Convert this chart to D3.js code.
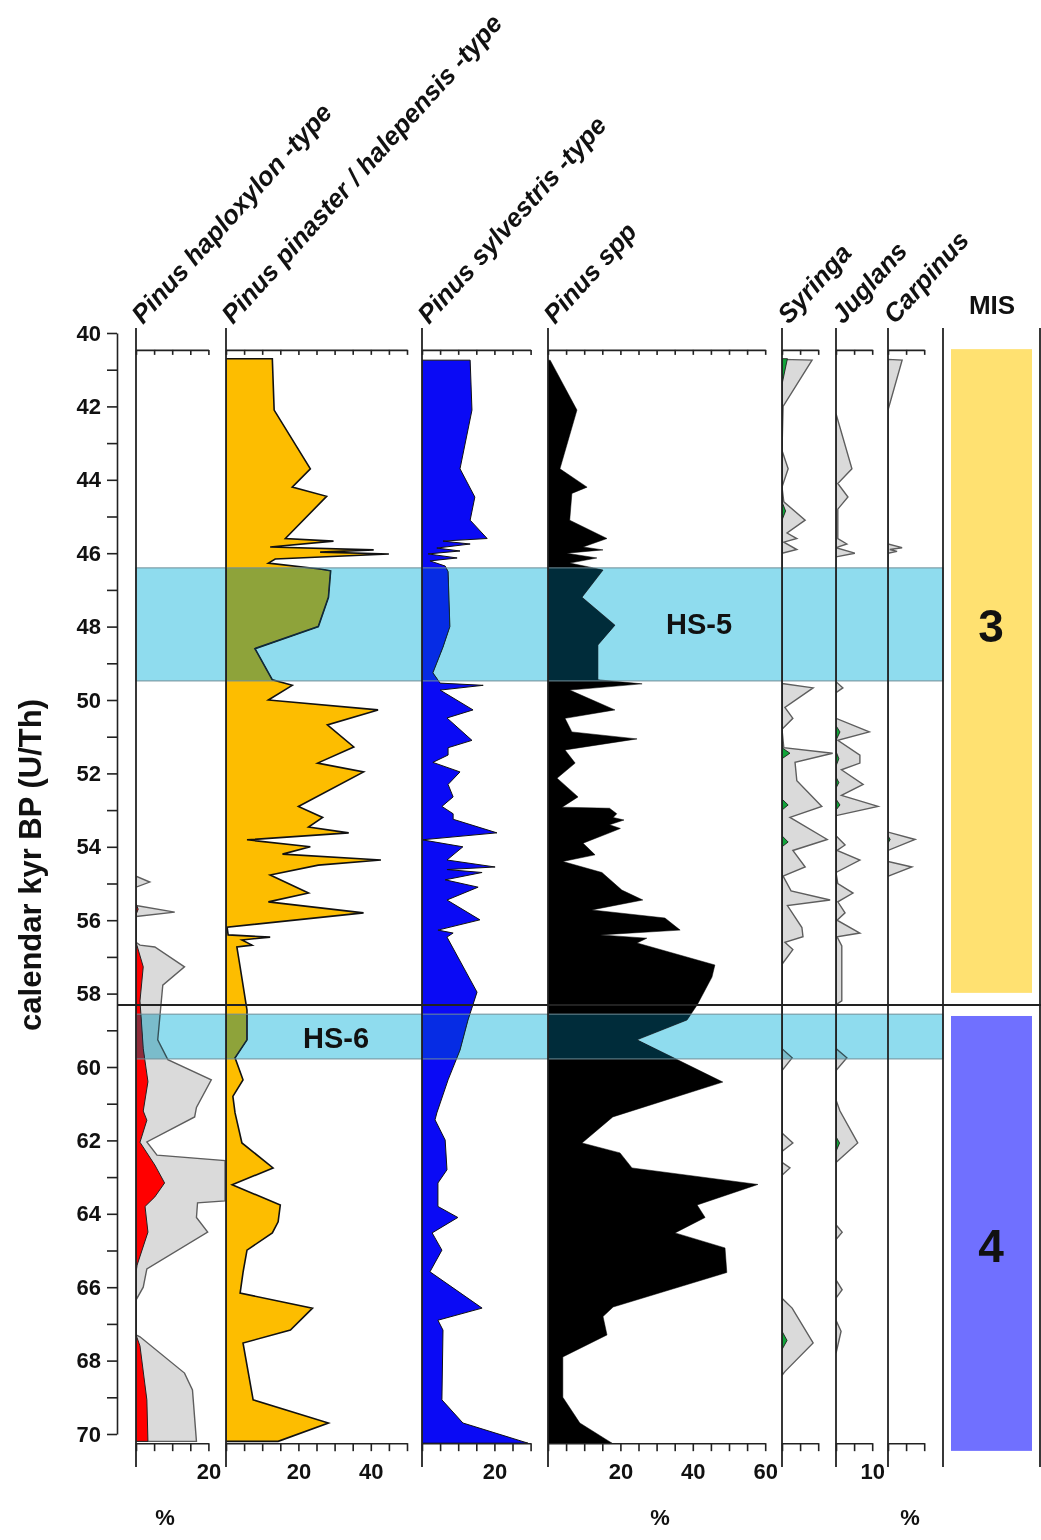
<!DOCTYPE html>
<html lang="en">
<head>
<meta charset="UTF-8">
<script src="https://cdn.jsdelivr.net/npm/d3@7"></script>
<title>Pinus pollen diagram</title>
<style>
    body { margin: 0; background: white; }
    svg { font-family: "Liberation Sans", Arial, sans-serif; }
    .axis text { font-weight: bold; font-size: 22px; fill: #111; }
    .axis path, .axis line { stroke: #222; stroke-width: 1.6px; }
</style>
</head>
<body>
<div id="chart"></div>
<script>
// age (kyr BP) / percentage pairs
const haploxylon = [[55.55,0],[55.7,0.6],[55.85,0],[56.6,0],[56.7,0.3],[57.27,2],[58.2,1.1],[59.5,2],[60.4,3.3],[61.2,2],[61.45,3],[62.05,1.1],[62.67,5.2],[63.16,7.9],[63.54,5.2],[63.8,2.5],[64.5,3.3],[65.4,0.3],[65.6,0],[67.3,0],[67.6,1.1],[69.07,3],[70.2,3.3]];
const haploxylonExag = [[54.8,0],[54.96,3.8],[55.1,0],[55.6,0],[55.78,10.7],[55.9,0],[56.6,0],[56.68,1.1],[56.73,5.2],[57.27,13.4],[57.77,7.4],[59.26,6],[59.8,8.8],[60.35,20.8],[61.1,16.7],[61.36,16.2],[62.04,3],[62.4,5.8],[62.55,24.6],[63.65,24.6],[63.7,17],[64.1,16.7],[64.5,19.8],[65.5,3],[66,2],[66.35,0],[67.3,0],[67.35,1.1],[68.34,13.4],[68.8,15.6],[70.2,16.7]];
const pinaster = [[40.7,12.8],[42.1,13.3],[43.7,23.3],[44.2,18.3],[44.45,27.8],[45.6,16.4],[45.67,29.7],[45.83,12.2],[45.91,40.8],[45.97,26],[46.02,45],[46.16,13.6],[46.27,11.7],[46.43,26],[46.48,28.9],[47.2,28.3],[48.0,25.5],[48.6,8],[49.45,12.8],[49.6,18.3],[50.0,11.7],[50.27,42],[50.68,28],[51.28,35.3],[51.72,25.3],[51.96,38],[52.9,20],[53.2,26.7],[53.46,22.8],[53.62,33.9],[53.81,5.8],[54.0,23.3],[54.2,15.6],[54.36,42.8],[54.5,25.5],[54.77,12.2],[55.26,22.8],[55.5,11.7],[55.8,38],[56.19,0.3],[56.4,0.6],[56.46,12.2],[56.54,4.4],[56.68,7.2],[56.73,3],[57.27,3.9],[58.45,5.8],[59.26,5.8],[59.75,2.5],[60.35,4.7],[60.8,1.9],[61.25,2.5],[62.07,4.4],[62.75,13],[63.21,1.7],[63.76,15],[64.22,14.4],[64.52,12.8],[64.99,5.8],[65.6,4.7],[66.16,3.9],[66.57,23.9],[67.17,17.8],[67.52,4.7],[69.07,7.5],[69.7,28.3],[70.2,14.4]];
const sylvestris = [[40.74,13.3],[42.1,13.8],[43.7,10.5],[44.47,14.6],[45.1,13.3],[45.6,18],[45.67,5.8],[45.75,13.3],[45.86,4.1],[45.94,10.5],[46.02,1.7],[46.13,9.7],[46.21,2.2],[46.35,6.4],[46.5,7.2],[48.0,7.7],[48.56,5.8],[49.26,3],[49.54,5],[49.6,16.9],[49.73,5],[50.27,14.1],[50.49,6.9],[51.1,13.8],[51.3,7.2],[51.5,7.2],[51.7,3],[51.96,10.5],[52.3,7.2],[52.64,8.6],[52.9,5.5],[53.1,8.6],[53.25,8.6],[53.62,20.7],[53.81,0],[54.0,11.3],[54.36,6.9],[54.55,20.2],[54.62,6.9],[54.7,16.6],[54.9,6.4],[55.1,15.5],[55.45,6.9],[55.99,16],[56.27,4.4],[56.35,8.6],[56.46,6.9],[57.96,15.2],[58.72,12.7],[59.54,10.5],[60.35,7.2],[61.25,4.1],[61.44,3.6],[61.99,6.4],[62.8,6.9],[63.16,4.4],[63.8,4.4],[64.1,9.9],[64.52,2.8],[64.99,5.5],[65.58,2.2],[66.57,16.6],[66.9,4.4],[67.17,5.8],[69.07,5.5],[69.7,11.3],[70.25,29.3]];
const pinusSpp = [[40.74,0.6],[42.1,8],[43.7,3.3],[44.2,10.8],[44.37,6.6],[45.1,6],[45.6,16.3],[45.83,9.7],[45.91,15.2],[46.0,5.2],[46.13,13.5],[46.27,6],[46.38,11.6],[46.46,15.2],[47.2,9.4],[47.96,18.5],[48.5,13.8],[49.45,13.8],[49.56,26],[49.73,6],[50.27,18.5],[50.5,4.7],[50.87,6.6],[51.06,24.6],[51.36,4.7],[51.72,7.5],[52.13,2.5],[52.64,8.3],[52.92,3.9],[52.95,17],[53.1,19],[53.2,18],[53.27,21],[53.4,17],[53.5,20],[53.62,17],[53.9,9.7],[54.22,13],[54.4,4.1],[54.7,14.9],[55.18,20.4],[55.45,26.2],[55.72,12.1],[55.94,32.3],[56.27,36.5],[56.4,14.4],[56.49,27.3],[56.62,24.6],[57.22,46.1],[57.55,45.3],[58.31,41.2],[58.72,38.4],[59.26,24.6],[60.41,48.3],[61.36,17.9],[62.07,9.4],[62.34,19.9],[62.75,23.2],[63.2,58],[63.76,41.2],[64.1,43.4],[64.52,35.1],[64.93,48.9],[65.6,49.4],[66.54,18],[66.8,15.2],[67.3,16.3],[67.9,4.1],[69.0,4.1],[69.7,8.8],[70.25,17.7]];
const syringaExag = [[40.72,0],[40.74,8.3],[42.0,0.3],[43.2,0],[43.7,1.7],[44.2,0],[44.6,0.5],[45.1,6.4],[45.45,1.4],[45.6,4.1],[45.7,0.5],[45.9,4.1],[46.0,0],[49.55,0],[49.67,8.6],[50.2,0.8],[50.5,3],[50.8,0],[51.3,0.5],[51.45,14],[51.7,3.6],[52.2,4.1],[52.9,11],[53.2,2.2],[53.8,12.5],[54.1,3],[54.55,6.4],[54.8,0.3],[55.2,2.5],[55.45,13.3],[55.6,1.5],[56.2,5.5],[56.45,5.8],[56.6,0.8],[56.8,3],[57.2,0],[59.5,0],[59.75,2.8],[60.1,0],[61.8,0],[62.07,3],[62.3,0],[62.6,0],[62.75,2.2],[62.95,0],[66.3,0],[66.57,2.8],[67.52,8.6],[68.3,0.8],[68.4,0]];
const syringa = [[40.7,1.5],[41.4,0],[44.6,0],[44.85,1.0],[45.1,0],[51.3,0],[51.45,2.2],[51.6,0],[52.7,0],[52.86,1.7],[53.0,0],[53.7,0],[53.87,1.7],[54.0,0],[67.2,0],[67.45,1.4],[67.7,0]];
const juglansExag = [[42.2,0],[43.7,4.4],[44.1,0.5],[44.47,3.3],[44.8,0.5],[45.6,0.5],[45.75,3],[45.85,0],[46.0,5.2],[46.1,0],[49.5,0],[49.67,1.9],[49.8,0],[50.5,0],[50.87,9.2],[51.1,0.5],[51.5,6.6],[51.72,6.6],[51.9,1.5],[52.3,7.5],[52.6,1.5],[52.9,11.6],[53.15,0],[53.7,0],[53.95,2.5],[54.1,0.3],[54.36,6.6],[54.7,0],[55.0,0.5],[55.26,4.7],[55.5,0.5],[55.8,2.5],[56.0,0.3],[56.35,6.6],[56.45,0.3],[56.7,1.6],[58.2,1.6],[58.3,0],[59.5,0],[59.75,3],[60.1,0],[60.9,0],[61.2,1.1],[62.07,6],[62.6,0],[64.3,0],[64.5,1.7],[64.7,0],[65.8,0],[66.07,1.7],[66.3,0],[66.9,0],[67.2,1.4],[67.8,0]];
const juglans = [[50.7,0],[50.87,1.1],[51.1,0],[51.4,0],[51.6,0.8],[51.8,0],[52.1,0],[52.25,0.8],[52.4,0],[52.7,0],[52.86,1.1],[53.0,0],[61.9,0],[62.07,1],[62.3,0]];
const carpinusExag = [[40.72,0],[40.74,3.9],[42.1,0],[45.75,0],[45.85,3.9],[45.9,0.5],[45.95,2.5],[46.0,0],[53.6,0],[53.8,7.5],[54.1,0],[54.4,0],[54.55,6.6],[54.8,0]];
const carpinus = [[53.7,0],[53.8,0.6],[53.9,0]];

// Heinrich stadials and marine isotope stages (kyr BP)
const hsNames = ["HS-5", "HS-6"];
const hsTop = [46.4, 58.56];
const hsBottom = [49.48, 59.78];
const misNames = ["3", "4"];
const misTop = [40.44, 58.61];
const misBottom = [57.98, 70.46];
const misLabelAge = [47.96, 64.85];
const misColors = ["#ffe171", "#7070ff"];
const boundaryAge = 58.31;

const ageTicks = d3.range(40, 71, 1);

const W = 1041, H = 1540;
const svg = d3.select("#chart").append("svg")
    .attr("width", W).attr("height", H)
    .style("display", "block");
svg.append("rect").attr("width", W).attr("height", H).attr("fill", "white");

const y = d3.scaleLinear().domain([40, 70]).range([333, 1434]);
const topAge = 40.46, botAge = 70.25;
const pxPct = 3.62;

const panels = [
    {name: ["Pinus haploxylon", " -type"], x0: 136, max: 20, step: 5, labels: [20], series: [[haploxylonExag, "grey"], [haploxylon, "red"]]},
    {name: ["Pinus pinaster / halepensis", " -type"], x0: 226, max: 50, step: 5, labels: [20, 40], series: [[pinaster, "orange"]]},
    {name: ["Pinus sylvestris", " -type"], x0: 422, max: 30, step: 5, labels: [20], series: [[sylvestris, "blue"]]},
    {name: ["Pinus spp", ""], x0: 548, max: 60, step: 5, labels: [20, 40, 60], series: [[pinusSpp, "black"]]},
    {name: ["Syringa", ""], x0: 782, max: 10, step: 5, labels: [], series: [[syringaExag, "grey"], [syringa, "green"]]},
    {name: ["Juglans", ""], x0: 836, max: 10, step: 5, labels: [10], series: [[juglansExag, "grey"], [juglans, "green"]]},
    {name: ["Carpinus", ""], x0: 888, max: 10, step: 5, labels: [], series: [[carpinusExag, "grey"], [carpinus, "green"]]}
];

const styles = {
    grey:   {fill: "#dadada", stroke: "#5e5e5e", w: 1.4},
    red:    {fill: "#ff0000", stroke: "#222", w: 1},
    orange: {fill: "#fdbd00", stroke: "#111", w: 1.6},
    blue:   {fill: "#0a0af5", stroke: "#111", w: 1},
    black:  {fill: "#000", stroke: "#000", w: 0.5},
    green:  {fill: "#11a43a", stroke: "#111", w: 0.8}
};

const layerData = svg.append("g");
const layerBands = svg.append("g");
const layerAxes = svg.append("g");

panels.forEach(p => {
    p.x = d3.scaleLinear().domain([0, p.max]).range([p.x0, p.x0 + p.max * pxPct]);
    const clip = "clip" + p.x0;
    svg.append("clipPath").attr("id", clip).append("rect")
        .attr("x", p.x0).attr("y", y(topAge)).attr("width", p.x(p.max) - p.x0 + 20).attr("height", y(botAge) - y(topAge));
    const area = d3.area()
        .y(d => y(d[0]))
        .x0(p.x(0))
        .x1(d => p.x(d[1]));
    p.series.forEach(([data, st]) => {
        const s = styles[st];
        layerData.append("path")
            .datum(data)
            .attr("clip-path", `url(#${clip})`)
            .attr("d", area)
            .attr("fill", s.fill)
            .attr("stroke", s.stroke)
            .attr("stroke-width", s.w)
            .attr("stroke-linejoin", "miter");
    });

    // top and bottom scales
    const ticks = d3.range(0, p.max + 0.01, p.step);
    layerAxes.append("g").attr("class", "axis")
        .attr("transform", `translate(0,${y(topAge)})`)
        .call(d3.axisBottom(p.x).tickValues(ticks).tickSize(5).tickSizeOuter(0).tickFormat(""));
    layerAxes.append("g").attr("class", "axis")
        .attr("transform", `translate(0,${y(botAge)})`)
        .call(d3.axisBottom(p.x).tickValues(ticks).tickSize(8).tickSizeOuter(0).tickPadding(12)
            .tickFormat(d => p.labels.includes(d) ? d : ""));

    layerAxes.append("line")
        .attr("x1", p.x0).attr("x2", p.x0)
        .attr("y1", 328).attr("y2", 1467)
        .attr("stroke", "#222").attr("stroke-width", 1.8);

    const t = svg.append("text")
        .attr("transform", `translate(${p.x0 + 7},325) rotate(-48)`)
        .attr("font-size", 26).attr("font-weight", "bold").attr("font-style", "italic")
        .attr("fill", "#111");
    t.append("tspan").text(p.name[0]);
    if (p.name[1]) t.append("tspan").text(p.name[1]);
});

// MIS column
const misLeft = 943, misRight = 1040;
[misLeft, misRight].forEach(x => layerAxes.append("line")
    .attr("x1", x).attr("x2", x).attr("y1", 328).attr("y2", 1467)
    .attr("stroke", "#222").attr("stroke-width", 1.8));
misNames.forEach((m, i) => {
    layerData.append("rect")
        .attr("x", 951).attr("width", 81)
        .attr("y", y(misTop[i])).attr("height", y(misBottom[i]) - y(misTop[i]))
        .attr("fill", misColors[i]);
    svg.append("text")
        .attr("x", 991).attr("y", y(misLabelAge[i]) + 17)
        .attr("text-anchor", "middle")
        .attr("font-size", 46).attr("font-weight", "bold").attr("fill", "#111")
        .text(m);
});
svg.append("text").attr("x", 992).attr("y", 314).attr("text-anchor", "middle")
    .attr("font-size", 26).attr("font-weight", "bold").attr("fill", "#111").text("MIS");

// Heinrich stadial bands (blended over the curves)
hsNames.forEach((h, i) => {
    const yy = y(hsTop[i]), hh = y(hsBottom[i]) - y(hsTop[i]);
    layerBands.append("rect").attr("x", 136).attr("width", misLeft - 136)
        .attr("y", yy).attr("height", hh)
        .attr("fill", "#8fdcee").style("mix-blend-mode", "multiply");
    layerBands.append("rect").attr("x", 136).attr("width", misLeft - 136)
        .attr("y", yy).attr("height", hh)
        .attr("fill", "#002c3a").style("mix-blend-mode", "lighten");
    layerBands.append("rect").attr("x", 136).attr("width", misLeft - 136)
        .attr("y", yy).attr("height", hh)
        .attr("fill", "none").attr("stroke", "#6f8e98").attr("stroke-width", 1);
});
svg.append("text").attr("x", 699).attr("y", 634).attr("text-anchor", "middle")
    .attr("font-size", 29).attr("font-weight", "bold").attr("fill", "#111").text(hsNames[0]);
svg.append("text").attr("x", 336).attr("y", 1048).attr("text-anchor", "middle")
    .attr("font-size", 29).attr("font-weight", "bold").attr("fill", "#111").text(hsNames[1]);

// MIS 3/4 boundary
layerAxes.append("line")
    .attr("x1", 117).attr("x2", W).attr("y1", y(boundaryAge)).attr("y2", y(boundaryAge))
    .attr("stroke", "#222").attr("stroke-width", 1.8);

// age axis
layerAxes.append("g").attr("class", "axis")
    .attr("transform", "translate(117,0)")
    .call(d3.axisLeft(y).tickValues(ageTicks).tickSize(10).tickSizeOuter(0).tickPadding(6)
        .tickFormat(d => d % 2 === 0 ? d : ""));
svg.append("text")
    .attr("transform", "translate(41,865) rotate(-90)")
    .attr("text-anchor", "middle")
    .attr("font-size", 31).attr("font-weight", "bold").attr("fill", "#111")
    .text("calendar kyr BP (U/Th)");

// percent units
[165, 660, 910].forEach(x => svg.append("text")
    .attr("x", x).attr("y", 1525).attr("text-anchor", "middle")
    .attr("font-size", 22).attr("font-weight", "bold").attr("fill", "#111").text("%"));
</script>
</body>
</html>
